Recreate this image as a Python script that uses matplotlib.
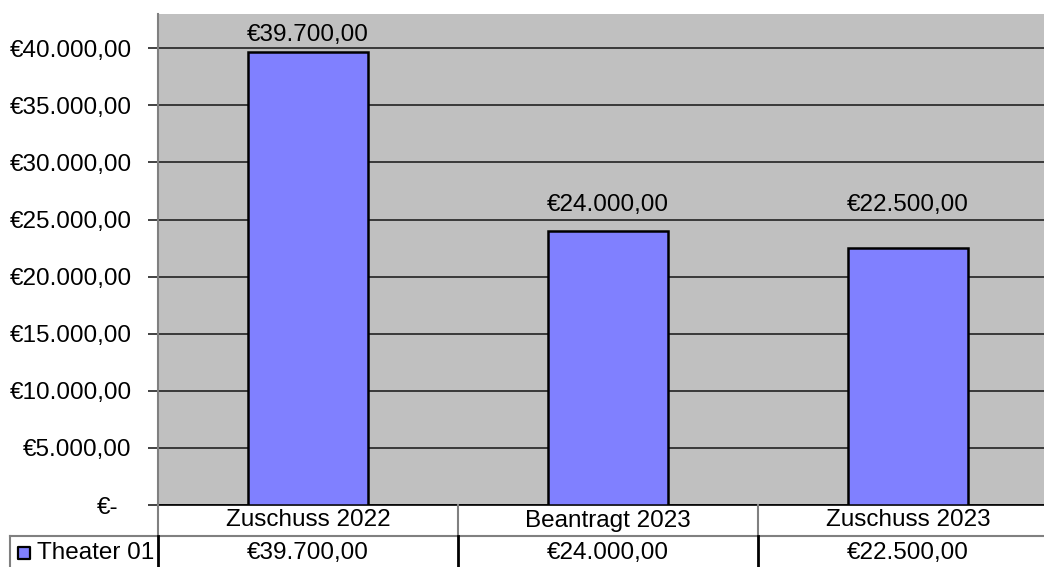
import matplotlib.pyplot as plt
import matplotlib.transforms as mtransforms
import numpy as np

plt.rcParams['font.family'] = ['Liberation Sans', 'DejaVu Sans']

categories = ["Zuschuss 2022", "Beantragt 2023", "Zuschuss 2023"]
series_name = "Theater 01"
values = [39700, 24000, 22500]
yticks = [0, 5000, 10000, 15000, 20000, 25000, 30000, 35000, 40000]


def euro(v):
    if v == 0:
        return "€-"
    s = f"{v:,.2f}".replace(",", "X").replace(".", ",").replace("X", ".")
    return "€" + s


W, H = 1044, 567
FS = 17.5
fig = plt.figure(figsize=(W / 100, H / 100), dpi=100)

# plot area runs past the right edge of the picture, like the original
left, right, top, bottom = 158, 1058, 14, 505
ax = fig.add_axes([left / W, (H - bottom) / H, (right - left) / W, (bottom - top) / H])
ax.set_facecolor("#C0C0C0")

x = np.arange(len(categories))
ax.bar(x, values, width=0.4, color="#8080FF", edgecolor="black", linewidth=1.8, zorder=3)

# labels sit at a common height unless the bar is taller
for xi, v in zip(x, values):
    ly = min(max(v, 24000) + 2300, 41200)
    ax.text(xi, ly, euro(v), ha="center", va="center", fontsize=FS, zorder=4)

ax.set_xlim(-0.5, len(categories) - 0.5)
ax.set_ylim(0, 43000)
ax.set_yticks(yticks)
ax.set_yticklabels([euro(v) for v in yticks])
ax.yaxis.grid(True, color="#222222", linewidth=1.2, zorder=1)
ax.set_xticks([])
ax.tick_params(axis="y", length=7, width=1.2, color="#222222", pad=12, labelsize=FS)

for s in ["top", "right"]:
    ax.spines[s].set_visible(False)
ax.spines["left"].set_color("#808080")
ax.spines["left"].set_linewidth(1.5)
ax.spines["bottom"].set_color("black")
ax.spines["bottom"].set_linewidth(1.2)

# shift the zero label like the accounting format does
lab0 = ax.get_yticklabels()[0]
lab0.set_transform(lab0.get_transform() + mtransforms.ScaledTranslation(-9.5 / 72, 0, fig.dpi_scale_trans))

# data table below the chart
tab = fig.add_axes([left / W, 0, (right - left) / W, (H - bottom) / H])
tab.set_xlim(-0.5, len(categories) - 0.5)
tab.set_ylim(0, 2)
tab.axis("off")
x_leg = -0.5 - 148 / 300
tab.plot([x_leg, len(categories) - 0.5], [1, 1], color="#808080", lw=1.5, clip_on=False)
tab.plot([x_leg, x_leg], [0, 1], color="#808080", lw=1.5, clip_on=False)
for i in range(len(categories)):
    xb = i - 0.5
    tab.plot([xb, xb], [1, 2], color="#808080", lw=1.5, clip_on=False)
    tab.plot([xb, xb], [0, 1], color="black", lw=2, clip_on=False)
    tab.text(i, 1.5, categories[i], ha="center", va="center", fontsize=FS)
    tab.text(i, 0.45, euro(values[i]), ha="center", va="center", fontsize=FS)

tab.scatter([x_leg + 0.045], [0.45], marker="s", s=65, color="#8080FF",
            edgecolor="black", linewidth=1.6, clip_on=False)
tab.text(x_leg + 0.09, 0.45, series_name, ha="left", va="center", fontsize=FS)

fig.savefig("out.png", dpi=100)
